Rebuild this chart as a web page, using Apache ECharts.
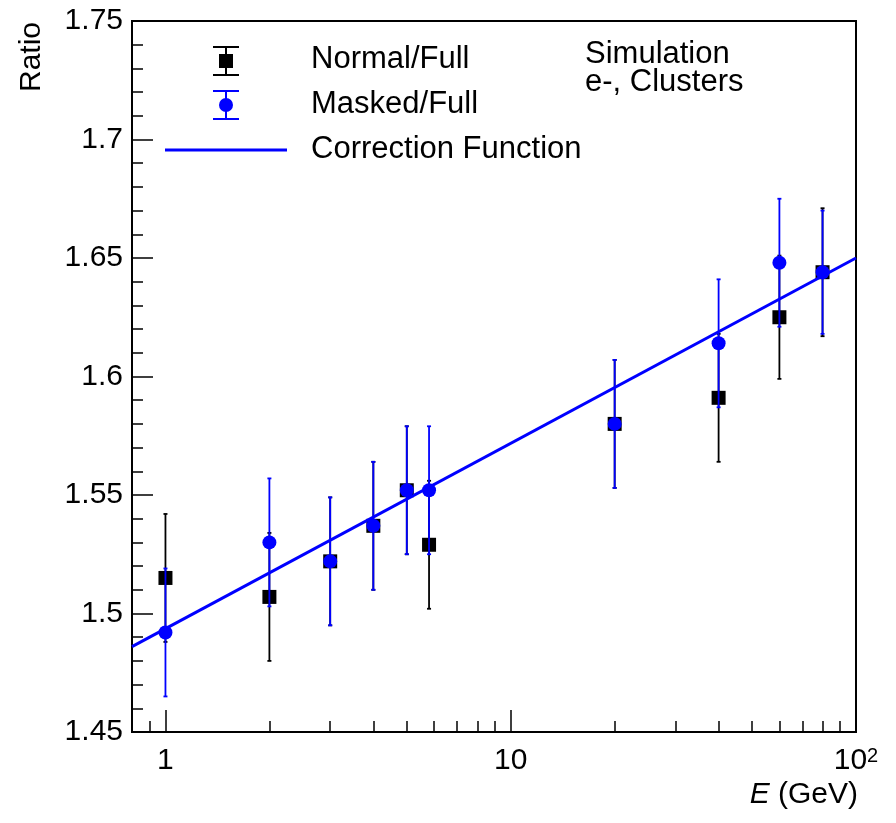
<!DOCTYPE html>
<html>
<head>
<meta charset="utf-8">
<script src="https://cdn.jsdelivr.net/npm/echarts@6.0.0/dist/echarts.min.js"></script>
<style>
  html, body { margin: 0; padding: 0; background: #fff; }
  #main { width: 896px; height: 823px; }
</style>
</head>
<body>
<div id="main"></div>
<script>
// energies (GeV) and ratios
var energies = [1, 2, 3, 4, 5, 5.8, 20, 40, 60, 80];
var normalRatio = [1.515, 1.507, 1.522, 1.537, 1.552, 1.529, 1.580, 1.591, 1.625, 1.644];
var normalErr = [0.027, 0.027, 0.027, 0.027, 0.027, 0.027, 0.027, 0.027, 0.026, 0.027];
var maskedRatio = [1.492, 1.530, 1.522, 1.537, 1.552, 1.552, 1.580, 1.614, 1.648, 1.644];
var maskedErr = [0.027, 0.027, 0.027, 0.027, 0.027, 0.027, 0.027, 0.027, 0.027, 0.026];
// correction function end points
var fitX = [0.8, 100];
var fitY = [1.486, 1.650];
// tick values
var xMajorTicks = [1, 10, 100];
var xMinorTicks = [0.9, 2, 3, 4, 5, 6, 7, 8, 9, 20, 30, 40, 50, 60, 70, 80, 90];

var FONT = '"Liberation Sans", Arial, sans-serif';
var BLUE = '#0000ff';

function pairs(xs, ys, es) {
  return xs.map(function (x, i) {
    return es ? [x, ys[i], es[i]] : [x, ys[i]];
  });
}

function errorBars(params, api) {
  var x = api.value(0), y = api.value(1), e = api.value(2);
  var hi = api.coord([x, y + e]);
  var lo = api.coord([x, y - e]);
  var style = { stroke: api.visual('color'), lineWidth: 1.8 };
  return {
    type: 'group',
    children: [
      { type: 'line', shape: { x1: hi[0], y1: hi[1], x2: lo[0], y2: lo[1] }, style: style },
      { type: 'line', shape: { x1: hi[0] - 2, y1: hi[1], x2: hi[0] + 2, y2: hi[1] }, style: style },
      { type: 'line', shape: { x1: lo[0] - 2, y1: lo[1], x2: lo[0] + 2, y2: lo[1] }, style: style }
    ]
  };
}

function legendBar(cx, cy, color, marker) {
  var st = { stroke: color, lineWidth: 2 };
  var items = [
    { type: 'line', shape: { x1: cx, y1: cy - 14, x2: cx, y2: cy + 14 }, style: st },
    { type: 'line', shape: { x1: cx - 13, y1: cy - 14, x2: cx + 13, y2: cy - 14 }, style: st },
    { type: 'line', shape: { x1: cx - 13, y1: cy + 14, x2: cx + 13, y2: cy + 14 }, style: st }
  ];
  if (marker === 'rect') {
    items.push({ type: 'rect', shape: { x: cx - 7, y: cy - 7, width: 14, height: 14 }, style: { fill: color } });
  } else {
    items.push({ type: 'circle', shape: { cx: cx, cy: cy, r: 7 }, style: { fill: color } });
  }
  return items;
}

var chart = echarts.init(document.getElementById('main'));

var legendGraphics = []
  .concat(legendBar(226, 61, '#000', 'rect'))
  .concat(legendBar(226, 105, BLUE, 'circle'))
  .concat([
    { type: 'line', shape: { x1: 165, y1: 150, x2: 287, y2: 150 }, style: { stroke: BLUE, lineWidth: 3 } },
    { type: 'text', x: 311, y: 59, style: { text: 'Normal/Full', font: '31px ' + FONT, fill: '#000', verticalAlign: 'middle' } },
    { type: 'text', x: 311, y: 104, style: { text: 'Masked/Full', font: '31px ' + FONT, fill: '#000', verticalAlign: 'middle' } },
    { type: 'text', x: 311, y: 149, style: { text: 'Correction Function', font: '31px ' + FONT, fill: '#000', verticalAlign: 'middle' } },
    { type: 'text', x: 585, y: 40, style: { text: 'Simulation\ne-, Clusters', font: '31px ' + FONT, fill: '#000', lineHeight: 28 } },
    { type: 'text', x: 32, y: 57, rotation: Math.PI / 2,
      style: { text: 'Ratio', font: '30px ' + FONT, fill: '#000', align: 'center', verticalAlign: 'middle' } },
    { type: 'text', x: 858, y: 795,
      style: { text: '{i|E} (GeV)', font: '30px ' + FONT, fill: '#000', align: 'right', verticalAlign: 'middle',
        rich: { i: { fontStyle: 'italic', fontSize: 30, fontFamily: FONT } } } }
  ]);

var option = {
  animation: false,
  backgroundColor: '#fff',
  grid: {
    left: 132, right: 40, top: 21, bottom: 91,
    show: true, borderColor: '#000', borderWidth: 2, backgroundColor: 'transparent'
  },
  xAxis: [
    {
      type: 'log', logBase: 10, min: 0.8, max: 100,
      axisLine: { show: true, lineStyle: { color: '#000', width: 2 } },
      axisTick: { show: true, inside: true, length: 22, customValues: xMajorTicks, lineStyle: { color: '#000', width: 1.5 } },
      axisLabel: {
        show: true, margin: 14, customValues: xMajorTicks,
        fontSize: 30, fontFamily: FONT, color: '#000',
        formatter: function (v) { return v === 100 ? '{b|10}{sup|2}' : String(v); },
        rich: {
          b: { fontSize: 30, fontFamily: FONT, color: '#000', lineHeight: 30 },
          sup: { fontSize: 20, fontFamily: FONT, color: '#000', lineHeight: 12, verticalAlign: 'top' }
        }
      },
      splitLine: { show: false },
      minorTick: { show: false }
    },
    {
      type: 'log', logBase: 10, min: 0.8, max: 100, position: 'bottom',
      axisLine: { show: false },
      axisTick: { show: true, inside: true, length: 11, customValues: xMinorTicks, lineStyle: { color: '#000', width: 1.5 } },
      axisLabel: { show: false },
      splitLine: { show: false }
    }
  ],
  yAxis: {
    type: 'value', min: 1.45, max: 1.75, interval: 0.05,
    axisLine: { show: true, lineStyle: { color: '#000', width: 2 } },
    axisTick: { show: true, inside: true, length: 21, lineStyle: { color: '#000', width: 1.5 } },
    minorTick: { show: true, splitNumber: 5, length: 11, lineStyle: { color: '#000', width: 1.5 } },
    axisLabel: { margin: 9, fontSize: 30, fontFamily: FONT, color: '#000' },
    splitLine: { show: false }
  },
  graphic: legendGraphics,
  series: [
    {
      name: 'Normal/Full err', type: 'custom', renderItem: errorBars,
      data: pairs(energies, normalRatio, normalErr),
      encode: { x: 0, y: 1 }, itemStyle: { color: '#000' }, z: 2
    },
    {
      name: 'Normal/Full', type: 'scatter', symbol: 'rect', symbolSize: 14,
      data: pairs(energies, normalRatio), itemStyle: { color: '#000', opacity: 1 }, z: 3
    },
    {
      name: 'Masked/Full err', type: 'custom', renderItem: errorBars,
      data: pairs(energies, maskedRatio, maskedErr),
      encode: { x: 0, y: 1 }, itemStyle: { color: BLUE }, z: 4
    },
    {
      name: 'Masked/Full', type: 'scatter', symbol: 'circle', symbolSize: 14,
      data: pairs(energies, maskedRatio), itemStyle: { color: BLUE, opacity: 1 }, z: 5
    },
    {
      name: 'Correction Function', type: 'line', showSymbol: false,
      data: pairs(fitX, fitY), lineStyle: { color: BLUE, width: 3 }, z: 6
    }
  ]
};

chart.setOption(option);
</script>
</body>
</html>
